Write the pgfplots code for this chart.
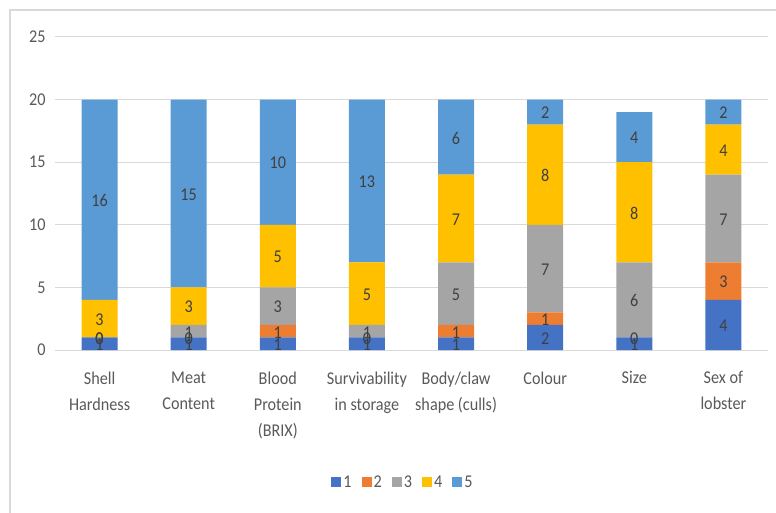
\documentclass[border=0pt]{standalone}
\usepackage{pgfplots}
\pgfplotsset{compat=1.18}
\usepackage{pgfplotstable}
\usepackage{fontspec}
\setmainfont{Carlito}[FakeStretch=0.9]

\definecolor{c1}{HTML}{4472C4}
\definecolor{c2}{HTML}{ED7D31}
\definecolor{c3}{HTML}{A5A5A5}
\definecolor{c4}{HTML}{FFC000}
\definecolor{c5}{HTML}{5B9BD5}
\definecolor{gridgray}{HTML}{D9D9D9}
\definecolor{ticktext}{HTML}{595959}
\definecolor{valtext}{HTML}{404040}

% number of responses per rating (1..5) for each quality attribute
\pgfplotstableread{
x r1 r2 r3 r4 r5
0 1 0 0 3 16
1 1 0 1 3 15
2 1 1 3 5 10
3 1 0 1 5 13
4 1 1 5 7 6
5 2 1 7 8 2
6 1 0 6 8 4
7 4 3 7 4 2
}\ratings

\pgfplotsset{
  % common frame of the bar axis and of the label overlay
  frame/.style={
    at={(55pt,162pt)}, anchor=south west,
    scale only axis, width=713pt, height=313pt,
    xmin=-0.5, xmax=7.5, ymin=0, ymax=25,
    clip=false,
    /pgf/number format/assume math mode=true,
  },
  % invisible stacked segment, labelled with its own count in its middle
  segmentlabel/.style={
    draw=none, mark=none,
    point meta=explicit,
    nodes near coords,
    visualization depends on={\thisrow{#1} \as \segv},
    every node near coord/.append style={anchor=center,
      shift={(axis direction cs:0,-\segv/2)}, yshift=-1pt,
      font=\fontsize{18}{21}\selectfont, text=valtext},
  },
}

\begin{document}
\begin{tikzpicture}[x=1pt,y=1pt]
\path[use as bounding box] (0,0) rectangle (776,512);
\draw[gridgray, line width=1.5pt] (10,-5) -- (10,502) -- (790,502);
\begin{axis}[
  frame,
  ybar stacked, bar width=36pt,
  ytick={0,5,...,25},
  xtick={0,...,7},
  xticklabels={{Shell\\Hardness},{Meat\\Content},{Blood\\Protein\\(BRIX)},{Survivability\\in storage},{Body/claw\\shape (culls)},{Colour},{Size},{Sex of\\lobster}},
  axis line style={draw=none},
  tick style={draw=none},
  ymajorgrids,
  grid style={gridgray, line width=1pt},
  yticklabel style={font=\fontsize{18}{21}\selectfont, text=ticktext, xshift=-6pt},
  xticklabel style={font=\fontsize{18}{26}\selectfont, text=ticktext, align=center, yshift=-18pt},
  legend image code/.code={\fill[#1] (0pt,-5pt) rectangle (10pt,5pt);},
  legend style={at={(0.488,-0.4217)}, anchor=center, draw=none, legend columns=5,
    font=\fontsize{18}{21}\selectfont, text=ticktext,
    /tikz/every even column/.append style={column sep=8pt}},
]
\addplot[fill=c1, draw=none] table[x=x, y=r1] {\ratings};
\addplot[fill=c2, draw=none] table[x=x, y=r2] {\ratings};
\addplot[fill=c3, draw=none] table[x=x, y=r3] {\ratings};
\addplot[fill=c4, draw=none] table[x=x, y=r4] {\ratings};
\addplot[fill=c5, draw=none] table[x=x, y=r5] {\ratings};
\legend{1,2,3,4,5}
\end{axis}
% value labels, drawn above every bar
\begin{axis}[frame, hide axis, stack plots=y]
\addplot[segmentlabel=r1] table[x=x, y=r1, meta=r1] {\ratings};
\addplot[segmentlabel=r2] table[x=x, y=r2, meta=r2] {\ratings};
\addplot[segmentlabel=r3] table[x=x, y=r3, meta=r3] {\ratings};
\addplot[segmentlabel=r4] table[x=x, y=r4, meta=r4] {\ratings};
\addplot[segmentlabel=r5] table[x=x, y=r5, meta=r5] {\ratings};
\end{axis}
\end{tikzpicture}
\end{document}
